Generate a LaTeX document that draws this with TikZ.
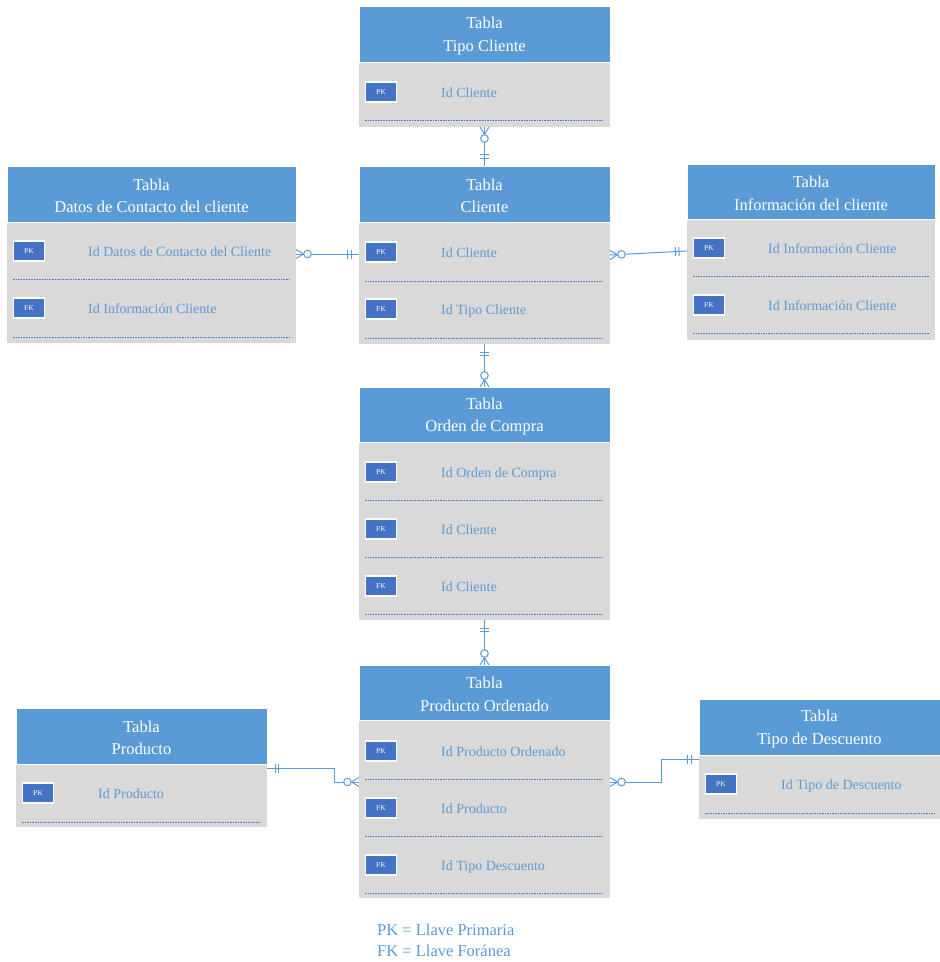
\documentclass[tikz,border=0pt]{standalone}
\usepackage{fontspec}
\setmainfont{Liberation Serif}
\definecolor{hdrblue}{HTML}{5B9BD5}
\definecolor{bodygray}{HTML}{D9D9D9}
\definecolor{keyblue}{HTML}{4472C4}
\definecolor{txtblue}{HTML}{5B9BD5}

\tikzset{
  hdr/.style={draw=white, line width=0.8pt, fill=hdrblue, inner sep=0pt, outer sep=0pt},
  hdrtxt/.style={text=white, inner sep=0pt, align=center, font=\fontsize{16.5}{22.5}\selectfont},
  bdy/.style={fill=bodygray, inner sep=0pt, outer sep=0pt},
  keybox/.style={draw=white, line width=1.2pt, fill=keyblue, text=white, minimum width=31pt,
    minimum height=20pt, inner sep=0pt, font=\fontsize{7.5}{8}\selectfont},
  fieldtxt/.style={anchor=base west, text=txtblue, inner sep=0pt, font=\fontsize{14}{16}\selectfont},
  rowsep/.style={draw=keyblue!80!hdrblue, line width=1pt, dash pattern=on 1.6pt off 1pt},
  link/.style={draw=hdrblue, line width=1pt},
  legendtxt/.style={text=txtblue, align=left, inner sep=0pt, font=\fontsize{16.5}{21}\selectfont},
  % zero-or-many end: crow's foot at the table, open circle behind it
  crowzero/.pic={
    \draw[link] (0,-4.5) -- (7.5,0) -- (0,4.5);
    \draw[link, fill=white] (11.5,0) circle (3.8);
  },
  % exactly-one end: two bars across the line
  onlyone/.pic={
    \draw[link] (8,-4.5) -- (8,4.5) (11.5,-4.5) -- (11.5,4.5);
  }
}

% table: name, x1, x2, y top, y header bottom, y bottom, title
\newcommand\erdtable[7]{%
  \node[bdy, minimum width={(#3-#2)*1pt}, minimum height={(#6-#5)*1pt}] (#1-b) at ({(#2+#3)/2},{(#5+#6)/2}) {};
  \node[hdr, minimum width={(#3-#2)*1pt}, minimum height={(#5-#4)*1pt}] (#1-h) at ({(#2+#3)/2},{(#4+#5)/2}) {};
  \node[hdrtxt] (#1-ht) at ({(#2+#3)/2},{(#4+#5)/2+1.8}) {Tabla\\#7};
}
% field row: name, index, x1, x2, y row, y separator, key, text x, text
\newcommand\erdrow[9]{%
  \node[keybox] (#1-k#2) at ({#3+22},{#5}) {#7};
  \node[fieldtxt] (#1-t#2) at ({#8},{#5+5.2}) {#9};
  \draw[rowsep] ({#3+6},{#6}) -- ({#4-6},{#6});
}

\begin{document}
\begin{tikzpicture}[x=1pt, y=-1pt]
\useasboundingbox (0,0) rectangle (940,962);

% Tipo Cliente
\erdtable{tc}{359}{610}{6}{62}{127}{Tipo Cliente}
\erdrow{tc}{1}{359}{610}{92}{120}{PK}{441}{Id Cliente}

% Cliente
\erdtable{cl}{359}{610}{166}{222}{344}{Cliente}
\erdrow{cl}{1}{359}{610}{252}{281}{PK}{441}{Id Cliente}
\erdrow{cl}{2}{359}{610}{309}{338}{FK}{441}{Id Tipo Cliente}

% Datos de Contacto del cliente
\erdtable{dc}{7}{296}{166}{222}{343}{Datos de Contacto del cliente}
\erdrow{dc}{1}{7}{296}{251}{279}{PK}{88}{Id Datos de Contacto del Cliente}
\erdrow{dc}{2}{7}{296}{308}{337}{FK}{88}{Id Información Cliente}

% Información del cliente
\erdtable{ic}{687}{935}{164}{219}{340}{Información del cliente}
\erdrow{ic}{1}{687}{935}{248}{276}{PK}{768}{Id Información Cliente}
\erdrow{ic}{2}{687}{935}{305}{333}{FK}{768}{Id Información Cliente}

% Orden de Compra
\erdtable{oc}{359}{610}{387}{442}{620}{Orden de Compra}
\erdrow{oc}{1}{359}{610}{472}{500}{PK}{441}{Id Orden de Compra}
\erdrow{oc}{2}{359}{610}{529}{557}{FK}{441}{Id Cliente}
\erdrow{oc}{3}{359}{610}{586}{614}{FK}{441}{Id Cliente}

% Producto Ordenado
\erdtable{po}{359}{610}{665}{720}{898}{Producto Ordenado}
\erdrow{po}{1}{359}{610}{751}{779}{PK}{441}{Id Producto Ordenado}
\erdrow{po}{2}{359}{610}{808}{836}{FK}{441}{Id Producto}
\erdrow{po}{3}{359}{610}{865}{893}{FK}{441}{Id Tipo Descuento}

% Producto
\erdtable{pr}{16}{267}{708}{764}{827}{Producto}
\erdrow{pr}{1}{16}{267}{793}{822}{PK}{98}{Id Producto}

% Tipo de Descuento
\erdtable{td}{699}{940}{699}{755}{819}{Tipo de Descuento}
\erdrow{td}{1}{699}{940}{784}{813}{PK}{781}{Id Tipo de Descuento}

% levels of the side connectors
\coordinate (lvA) at (0,254);
\coordinate (lvB) at (0,255);
\coordinate (lvC) at (0,251);
\coordinate (lvD) at (0,768);
\coordinate (lvE) at (0,782);
\coordinate (lvF) at (0,759);

% Tipo Cliente -- Cliente
\draw[link] (tc-b.south) -- (cl-h.north);
\pic[rotate=-90] at (tc-b.south) {crowzero};
\pic[rotate=90] at (cl-h.north) {onlyone};

% Datos de Contacto -- Cliente
\draw[link] (dc-b.east |- lvA) -- (cl-b.west |- lvA);
\pic at (dc-b.east |- lvA) {crowzero};
\pic[rotate=180] at (cl-b.west |- lvA) {onlyone};

% Cliente -- Información del cliente
\draw[link] (cl-b.east |- lvB) -- (ic-b.west |- lvC);
\pic[rotate=3] at (cl-b.east |- lvB) {crowzero};
\pic[rotate=183] at (ic-b.west |- lvC) {onlyone};

% Cliente -- Orden de Compra
\draw[link] (cl-b.south) -- (oc-h.north);
\pic[rotate=-90] at (cl-b.south) {onlyone};
\pic[rotate=90] at (oc-h.north) {crowzero};

% Orden de Compra -- Producto Ordenado
\draw[link] (oc-b.south) -- (po-h.north);
\pic[rotate=-90] at (oc-b.south) {onlyone};
\pic[rotate=90] at (po-h.north) {crowzero};

% Producto -- Producto Ordenado
\draw[link] (pr-b.east |- lvD) -- ++(67,0) |- (po-b.west |- lvE);
\pic at (pr-b.east |- lvD) {onlyone};
\pic[rotate=180] at (po-b.west |- lvE) {crowzero};

% Producto Ordenado -- Tipo de Descuento
\draw[link] (po-b.east |- lvE) -- ++(51,0) |- (td-b.west |- lvF);
\pic at (po-b.east |- lvE) {crowzero};
\pic[rotate=180] at (td-b.west |- lvF) {onlyone};

% key legend
\node[legendtxt, anchor=west] (legend) at (377,940.5) {PK = Llave Primaria\\FK = Llave Foránea};
\end{tikzpicture}
\end{document}
